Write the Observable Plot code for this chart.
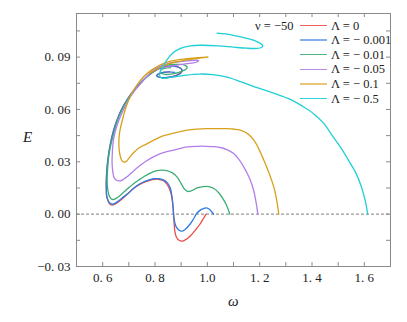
<!DOCTYPE html>
<html><head><meta charset="utf-8">
<script src="https://cdn.jsdelivr.net/npm/d3@7"></script>
<script src="https://cdn.jsdelivr.net/npm/@observablehq/plot@0.6"></script>
<style>
body{margin:0;background:#fff;}
#wrap{position:relative;width:407px;height:322px;font-family:"Liberation Serif","Times New Roman",serif;}
.lbl{position:absolute;font-size:15px;font-style:italic;color:#222;line-height:16px;}
.row{position:absolute;height:14px;line-height:14px;font-size:12.5px;color:#222;white-space:nowrap;}
.sw{position:absolute;left:0;width:27px;}
.tx{position:absolute;left:31px;top:0;}
</style></head>
<body><div id="wrap"></div>
<script>
// ---- data ----
const seriesNames = ["Λ = 0", "Λ = − 0.001", "Λ = − 0.01", "Λ = − 0.05", "Λ = − 0.1", "Λ = − 0.5"];
const seriesColors = ["#ee4b4b", "#2f7be0", "#3aae74", "#b27fea", "#d7a11c", "#1fcfd6"];
const nuLabel = "ν = −50";

const w0 = [0.995,0.985,0.973,0.955,0.935,0.915,0.904,0.892,0.882,0.876,0.873,0.870,0.866,0.860,0.852,0.834,0.815,0.800,0.780,0.760,0.744,0.720,0.700,0.680,0.660,0.645,0.636,0.626,0.619,0.615,0.614,0.614,0.617,0.623,0.632,0.642,0.655,0.672,0.695,0.722,0.752,0.790,0.825,0.855,0.882,0.899,0.903,0.897,0.882,0.860,0.834,0.814,0.808,0.814,0.832,0.855];
const e0 = [0,-0.0025,-0.0055,-0.0090,-0.0125,-0.0148,-0.0155,-0.0150,-0.0132,-0.0100,-0.0050,0.0020,0.0080,0.0125,0.0156,0.0190,0.0199,0.0200,0.0194,0.0183,0.0172,0.0150,0.0123,0.0095,0.0070,0.0056,0.0052,0.0060,0.0082,0.0105,0.0140,0.0195,0.0270,0.0347,0.0420,0.0481,0.0540,0.0600,0.0660,0.0715,0.0765,0.0812,0.0840,0.0848,0.0846,0.0835,0.0823,0.0809,0.0797,0.0787,0.0782,0.0786,0.0794,0.0804,0.0812,0.0815];

const w1 = [1.024,1.015,1.005,0.995,0.985,0.973,0.960,0.948,0.935,0.915,0.904,0.892,0.880,0.873,0.869,0.865,0.859,0.848,0.834,0.815,0.8015,0.780,0.760,0.744,0.720,0.700,0.680,0.660,0.645,0.636,0.626,0.619,0.615,0.614,0.614,0.617,0.623,0.632,0.642,0.655,0.672,0.695,0.722,0.752,0.790,0.825,0.855,0.884,0.900,0.904,0.898,0.884,0.860,0.833,0.812,0.806,0.812,0.830,0.855,0.875];
const e1 = [0,0.0017,0.0031,0.0036,0.0032,0.0023,0.0005,-0.0025,-0.0055,-0.0088,-0.0097,-0.0092,-0.0070,-0.0030,0.0042,0.0100,0.0147,0.0178,0.0195,0.0203,0.0204,0.0198,0.0187,0.0176,0.0150,0.0123,0.0099,0.0075,0.0060,0.0057,0.0065,0.0085,0.0110,0.0150,0.0195,0.0270,0.0347,0.0420,0.0481,0.0540,0.0600,0.0660,0.0715,0.0765,0.0812,0.0840,0.0848,0.0845,0.0833,0.0822,0.0808,0.0796,0.0786,0.0782,0.0786,0.0793,0.0803,0.0812,0.0815,0.0812];

const w2 = [1.086,1.075,1.063,1.045,1.025,1.005,0.985,0.961,0.945,0.932,0.922,0.912,0.900,0.884,0.865,0.845,0.825,0.808,0.790,0.760,0.740,0.719,0.695,0.680,0.668,0.655,0.642,0.632,0.625,0.620,0.617,0.619,0.623,0.631,0.642,0.656,0.674,0.697,0.724,0.754,0.790,0.822,0.846,0.872,0.897,0.915,0.923,0.918,0.904,0.880,0.855,0.835,0.821,0.822,0.835,0.860];
const e2 = [0,0.0045,0.0080,0.0120,0.0147,0.0158,0.0158,0.0150,0.0138,0.0130,0.0132,0.0145,0.0175,0.0214,0.0238,0.0250,0.0252,0.0250,0.0241,0.0217,0.0198,0.0176,0.0145,0.0125,0.0109,0.0094,0.0084,0.0088,0.0105,0.0135,0.0195,0.0260,0.0328,0.0395,0.0462,0.0535,0.0598,0.0660,0.0715,0.0765,0.0815,0.0843,0.0853,0.0858,0.0858,0.0853,0.0843,0.0830,0.0820,0.0808,0.0801,0.0802,0.0812,0.0825,0.0835,0.0840];

const w3 = [1.193,1.186,1.177,1.160,1.139,1.120,1.101,1.075,1.050,1.025,0.999,0.960,0.923,0.880,0.850,0.821,0.790,0.765,0.744,0.718,0.693,0.680,0.668,0.655,0.645,0.639,0.636,0.637,0.641,0.650,0.662,0.680,0.697,0.718,0.746,0.775,0.808,0.845,0.884,0.925,0.955,0.967,0.960,0.940,0.910,0.880,0.850,0.830];
const e3 = [0,0.0070,0.0137,0.0210,0.0271,0.0315,0.0347,0.0370,0.0382,0.0387,0.0389,0.0389,0.0385,0.0370,0.0360,0.0347,0.0325,0.0303,0.0280,0.0248,0.0214,0.0200,0.0191,0.0193,0.0205,0.0240,0.0290,0.0355,0.0424,0.0485,0.0538,0.0600,0.0650,0.0700,0.0750,0.0800,0.0840,0.0862,0.0872,0.0878,0.0882,0.0880,0.0872,0.0866,0.0860,0.0853,0.0845,0.0840];

const w4 = [1.273,1.265,1.254,1.236,1.216,1.198,1.178,1.155,1.126,1.100,1.075,1.040,0.999,0.960,0.923,0.880,0.850,0.821,0.790,0.765,0.744,0.720,0.700,0.687,0.675,0.668,0.663,0.662,0.666,0.675,0.686,0.699,0.715,0.735,0.758,0.785,0.815,0.846,0.885,0.923,0.965,1.005,0.965,0.923,0.880,0.850,0.825,0.800,0.780];
const e4 = [0,0.0080,0.0156,0.0235,0.0309,0.0370,0.0424,0.0460,0.0481,0.0488,0.0490,0.0490,0.0490,0.0487,0.0481,0.0467,0.0456,0.0443,0.0420,0.0400,0.0385,0.0355,0.0320,0.0299,0.0303,0.0328,0.0370,0.0424,0.0480,0.0538,0.0598,0.0653,0.0703,0.0748,0.0790,0.0824,0.0852,0.0872,0.0884,0.0891,0.0897,0.0901,0.0893,0.0884,0.0872,0.0860,0.0845,0.0825,0.0808];

const w5 = [1.613,1.603,1.588,1.568,1.547,1.515,1.480,1.445,1.406,1.360,1.317,1.250,1.190,1.130,1.075,1.020,0.970,0.920,0.880,0.845,0.826,0.818,0.819,0.825,0.836,0.852,0.871,0.900,0.935,0.973,1.040,1.100,1.150,1.190,1.207,1.212,1.205,1.185,1.150,1.100,1.070,1.037];
const e5 = [0,0.0080,0.0160,0.0235,0.0290,0.0370,0.0445,0.0520,0.0576,0.0622,0.0658,0.0695,0.0725,0.0758,0.0785,0.0800,0.0803,0.0797,0.0788,0.0780,0.0780,0.0792,0.0810,0.0832,0.0862,0.0897,0.0928,0.0952,0.0965,0.0968,0.0965,0.0957,0.0951,0.0950,0.0955,0.0964,0.0976,0.0992,0.1008,0.1025,0.1033,0.1038];

const xTickValues = [0.6,0.7,0.8,0.9,1.0,1.1,1.2,1.3,1.4,1.5,1.6];
const xLabelValues = [0.6,0.8,1.0,1.2,1.4,1.6];
const xLabelTexts = ["0. 6","0. 8","1.0","1. 2","1. 4","1. 6"];
const yTickValues = [-0.015,0,0.015,0.03,0.045,0.06,0.075,0.09,0.105];
const yLabelValues = [-0.03,0,0.03,0.06,0.09];
const yLabelTexts = ["−0. 03","0. 00","0. 03","0. 06","0. 09"];

// ---- build ----
const ws = [w0,w1,w2,w3,w4,w5], es = [e0,e1,e2,e3,e4,e5];
const rows = [];
ws.forEach((w,i)=>w.forEach((x,j)=>rows.push({s:seriesNames[i], w:x, e:es[i][j]})));

const W = 407, H = 322, mL = 76, mR = 17, mT = 13, mB = 56;
const innerH = H - mT - mB, innerW = W - mL - mR;
const tk = 4, axisCol = "#8a8a8a";
const serif = '"Liberation Serif","Times New Roman",serif';

const chart = Plot.plot({
  width: W, height: H,
  marginLeft: mL, marginRight: mR, marginTop: mT, marginBottom: mB,
  style: {fontFamily: serif, fontSize: "13px", color: "#222", background: "white"},
  x: {domain: [0.5, 1.7]},
  y: {domain: [-0.03, 0.115]},
  color: {domain: seriesNames, range: seriesColors},
  marks: [
    Plot.ruleY([0], {stroke: "#9a9a9a", strokeWidth: 1.2, strokeDasharray: "3,2"}),
    Plot.ruleX(xTickValues, {x: d=>d, insetTop: innerH - tk, stroke: axisCol}),
    Plot.ruleX(xTickValues, {x: d=>d, insetBottom: innerH - tk, stroke: axisCol}),
    Plot.ruleY(yTickValues, {y: d=>d, insetRight: innerW - tk, stroke: axisCol}),
    Plot.ruleY(yTickValues, {y: d=>d, insetLeft: innerW - tk, stroke: axisCol}),
    Plot.axisX(xLabelValues, {anchor: "bottom", tickSize: 0, tickPadding: 6, tickFormat: (d,i)=>xLabelTexts[i], fontSize: 13, fontFamily: serif, label: null}),
    Plot.axisY(yLabelValues, {anchor: "left", tickSize: 0, tickPadding: 6, tickFormat: (d,i)=>yLabelTexts[i], fontSize: 13, fontFamily: serif, label: null}),
    Plot.line(rows, {x: "w", y: "e", z: "s", stroke: "s", strokeWidth: 1.3, curve: "catmull-rom"}),
    Plot.frame({stroke: axisCol, strokeWidth: 1})
  ]
});
const wrap = document.getElementById("wrap");
wrap.appendChild(chart);

function addLabel(text, left, top){
  const d = document.createElement("div");
  d.className = "lbl"; d.textContent = text;
  d.style.left = left + "px"; d.style.top = top + "px";
  wrap.appendChild(d);
}
addLabel("E", 23, 129);
addLabel("ω", 228, 293);

// legend
const legendWidths = [1.5, 2.5, 1.5, 1.5, 2.5, 1.5];
const nu = document.createElement("div");
nu.className = "row"; nu.textContent = nuLabel;
nu.style.left = "255px"; nu.style.top = "19px";
wrap.appendChild(nu);
seriesNames.forEach((name,i)=>{
  const r = document.createElement("div");
  r.className = "row";
  r.style.left = "300px"; r.style.top = (18.5 + i*14.6) + "px";
  r.style.width = "100px";
  const sw = document.createElement("span");
  sw.className = "sw";
  sw.style.height = legendWidths[i] + "px";
  sw.style.top = (7 - legendWidths[i]/2) + "px";
  sw.style.background = seriesColors[i];
  sw.style.opacity = legendWidths[i] > 2 ? 0.6 : 0.9;
  r.appendChild(sw);
  const t = document.createElement("span");
  t.className = "tx";
  t.textContent = name;
  r.appendChild(t);
  wrap.appendChild(r);
});
</script></body></html>
